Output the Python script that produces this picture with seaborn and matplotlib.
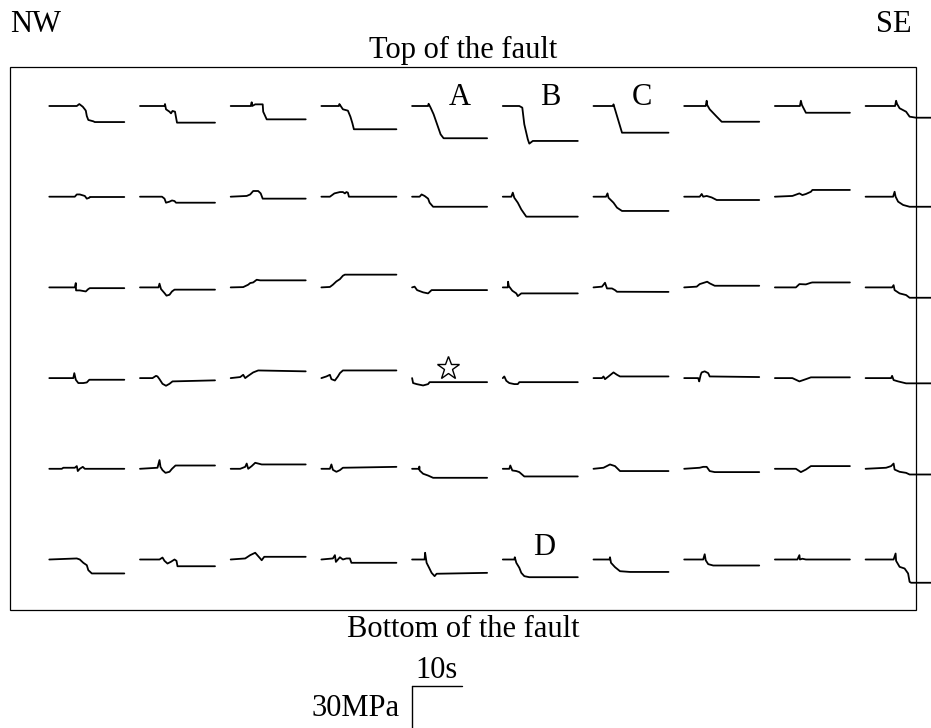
import numpy as np
import pandas as pd
import matplotlib
matplotlib.use("Agg")
import matplotlib.pyplot as plt
from matplotlib.patches import Rectangle
import seaborn as sns

# ---------------- data: stress change (MPa) vs time (s) at each station ----------------
# rows: top of fault (0) -> bottom of fault (5); columns: NW (0) -> SE (9)
T0 = [[0,5.5,6.0,6.7,7.1,7.3,7.5,7.8,8.8,9.1,15],
      [0,4.9,5.0,5.2,5.9,6.2,6.5,7.0,7.2,7.4,15],
      [0,4.0,4.2,4.3,4.9,6.4,6.5,6.9,7.2,15],
      [0,3.5,3.6,4.3,5.3,5.8,6.2,6.5,15],
      [0,3.2,3.3,3.7,4.3,5.0,5.7,6.3,15],
      [0,3.3,3.9,4.3,5.0,5.3,6.0,15],
      [0,3.9,4.0,4.3,5.0,5.7,15],
      [0,4.3,4.5,4.6,5.1,6.5,7.5,15],
      [0,5.0,5.2,5.4,6.2,15],
      [0,5.9,6.1,6.3,6.8,8.1,8.8,10.1,15]]
S0 = [[0,0,1.3,-0.5,-2.2,-3.1,-6.7,-9.3,-10.2,-10.7,-10.7],
      [0,0,1.3,-2.2,-3.8,-4.9,-3.3,-3.8,-7.5,-11.1,-11.1],
      [0,0,2.5,0,1.1,1.1,-3.8,-6.7,-8.9,-8.9],
      [0,0,1.3,-2.2,-3.1,-7.1,-11.5,-15.5,-15.5],
      [0,0,1.5,-1.1,-5.5,-12.2,-18.9,-21.5,-21.5],
      [0,0,-1.1,-12.2,-22.2,-25.1,-23.3,-23.3],
      [0,0,1.1,-2.2,-10,-17.8,-17.8],
      [0,0,3.5,0.7,-2.2,-7.1,-10.5,-10.5],
      [0,0,3.5,0.7,-4.5,-4.5],
      [0,0,3.5,1.3,-1.5,-3.8,-7.1,-7.8,-7.8]]

T1 = [[0,5.1,5.5,6.1,6.7,7.1,7.5,8.0,8.1,15],
      [0,4.4,4.9,5.2,5.9,6.4,6.9,7.2,15],
      [0,3.2,3.9,4.5,5.5,6.0,6.4,15],
      [0,1.7,2.6,3.7,4.3,4.7,5.0,5.3,5.5,15],
      [0,1.5,1.9,2.5,3.2,3.5,4.2,15],
      [0,1.7,2.0,2.3,3.0,3.7,4.7,15],
      [0,2.5,2.8,3.0,4.0,4.7,5.7,15],
      [0,3.1,3.5,3.8,4.5,5.5,6.5,15],
      [0,3.5,4.9,5.5,6.2,7.2,7.5,15],
      [0,5.5,5.8,6.0,6.5,7.5,8.8,15]]
S1 = [[0,0,1.5,1.5,0.9,0.5,-1.3,-0.7,-0.2,-0.2],
      [0,0,-1.3,-4.0,-3.3,-2.5,-2.9,-4.0,-4.0],
      [0,0.5,1.5,3.8,3.8,2.2,-1.3,-1.3],
      [0,0,2.2,3.1,3.1,2.2,3.1,2.7,0,0],
      [0,0,1.5,0.5,-1.3,-4.0,-6.7,-6.7],
      [0,0,2.7,-0.7,-4.0,-8.5,-13.3,-13.3],
      [0,0,2.2,-0.7,-4.0,-7.3,-9.5,-9.5],
      [0,0,1.8,0,0.5,-0.5,-2.2,-2.2],
      [0,0.5,2.2,1.1,1.8,3.3,4.5,4.5],
      [0,0,3.3,0,-3.3,-5.5,-6.7,-6.7]]

T2 = [[0,5.1,5.3,5.35,6.1,7.3,7.8,8.1,15],
      [0,3.7,3.9,4.2,4.9,5.3,5.9,6.4,6.9,15],
      [0,2.5,3.5,3.9,4.5,5.2,5.9,15],
      [0,1.7,2.3,3.0,3.7,4.3,4.7,15],
      [0,0.5,1.0,2.2,3.2,3.9,15],
      [0,1.0,1.05,1.2,1.9,2.7,3.0,3.7,15],
      [0,1.7,2.3,2.7,3.7,4.3,4.7,15],
      [0,2.5,3.1,4.6,5.1,6.1,15],
      [0,4.2,4.9,6.2,7.2,7.5,15],
      [0,5.3,5.6,5.8,6.8,8.1,8.8,15]]
S2 = [[0,0,2.9,-2.0,-2.0,-2.7,-1.1,-0.5,-0.5],
      [0,0,2.5,-1.1,-3.8,-5.5,-4.9,-2.7,-1.5,-1.5],
      [0,0.2,1.8,2.9,3.3,5.1,4.7,4.7],
      [0,0.3,1.8,4.0,5.5,7.8,8.5,8.5],
      [0,0.5,-1.8,-3.3,-4.0,-1.8,-1.8],
      [0,0,3.8,0.9,-2.2,-4.0,-5.8,-4.0,-4.0],
      [0,0.5,3.1,-0.7,-0.7,-1.8,-2.9,-3.0],
      [0,0.5,2.2,3.8,2.7,1.1,1.1],
      [0,0,2.2,2.0,3.1,3.3,3.3],
      [0,0,1.5,-1.8,-4.0,-5.1,-6.9,-6.9]]

T3 = [[0,4.8,5.0,5.3,5.8,6.8,7.5,8.0,15],
      [0,2.5,3.2,3.5,3.9,4.5,5.2,5.9,6.5,15],
      [0,1.9,2.5,2.9,3.5,4.5,5.5,15],
      [0,1.0,1.7,2.0,2.7,3.3,3.7,4.3,15],
      [0,0.2,0.9,2.2,3.2,3.5,15],
      [0,0.3,0.7,1.3,2.3,3.0,3.3,15],
      [0,1.7,2.0,2.3,3.0,4.0,4.7,5.3,15],
      [0,2.8,3.0,3.3,3.5,4.1,4.8,5.1,15],
      [0,3.5,4.9,6.2,7.2,15],
      [0,5.1,5.3,5.6,6.5,8.1,15]]
S3 = [[0,0,3.3,-1.1,-3.3,-3.3,-2.9,-1.1,-1.1],
      [0,0,1.5,1.1,-0.7,-3.8,-5.1,-3.8,-2.2,-1.5],
      [0,0.7,2.2,0,1.5,3.8,5.1,4.5],
      [0,1.1,2.2,-0.7,-1.6,1.1,3.3,5.1,5.1],
      [0,-3.3,-4.0,-4.9,-4.0,-2.7,-2.7],
      [0,1.1,-1.8,-3.3,-4.0,-4.0,-2.7,-2.7],
      [0,0,1.1,-0.7,1.1,3.8,2.2,1.1,1.1],
      [0,0,-2.2,2.2,3.8,4.5,3.3,1.1,0.7],
      [0,0,-2.2,-0.7,0.5,0.5],
      [0,0,1.5,-1.3,-2.2,-3.5,-3.5]]

T4 = [[0,2.5,2.8,5.1,5.5,5.7,6.1,6.7,7.1,15],
      [0,3.5,3.9,4.1,4.5,5.1,5.9,6.4,7.1,15],
      [0,1.9,2.9,3.2,3.5,4.2,4.9,5.5,6.2,15],
      [0,1.7,2.0,2.3,3.0,3.7,4.3,15],
      [0,1.4,1.45,1.5,2.2,3.2,4.2,15],
      [0,1.3,1.5,1.9,2.7,3.3,4.3,15],
      [0,2.0,3.3,4.3,5.3,15],
      [0,3.1,3.8,4.5,5.1,6.1,15],
      [0,4.2,5.2,6.2,7.2,15],
      [0,4.1,5.1,5.6,5.8,6.8,8.1,8.8,15]]
S4 = [[0,0,0.7,0.7,1.8,-1.5,0,1.3,0,0],
      [0,0.7,5.8,1.3,-0.9,-2.7,-2.0,0,2.2,2.2],
      [0,0,1.3,3.5,0,1.8,4.0,3.5,2.9,2.9],
      [0,0,2.9,-0.7,-2.0,-0.9,0.7,1.3],
      [0,0,1.5,-1.1,-3.3,-4.5,-6.0,-6.0],
      [0,0,2.2,-1.1,-1.5,-2.2,-5.1,-5.1],
      [0,0.7,2.9,1.8,-1.5,-1.5],
      [0,0.7,1.3,1.3,-1.5,-2.2,-2.2],
      [0,0,-2.2,-0.5,1.8,1.8],
      [0,0.7,1.8,3.5,-0.5,-2.0,-2.7,-3.8,-3.8]]

T5 = [[0,5.5,6.1,6.8,7.5,7.8,8.5,15],
      [0,3.9,4.5,4.9,5.5,6.2,6.9,7.3,7.5,15],
      [0,2.9,3.9,4.9,5.9,6.2,6.7,15],
      [0,2.3,2.7,2.9,3.7,4.3,5.0,5.7,6.0,15],
      [0,2.5,2.6,2.9,3.4,3.9,4.5,4.9,15],
      [0,2.3,2.4,2.7,3.3,3.7,4.3,5.3,15],
      [0,3.2,3.3,3.5,4.3,5.3,7.3,15],
      [0,3.8,4.1,4.3,4.8,5.8,15],
      [0,4.5,4.9,5.0,5.5,6.2,15],
      [0,5.6,6.0,6.1,6.8,7.8,8.5,8.8,9.1,15]]
S5 = [[0,0.7,0,-2.2,-3.8,-7.1,-9.3,-9.3],
      [0,0,1.3,-0.9,-2.7,-1.5,0,-0.9,-4.5,-4.5],
      [0,0.7,2.9,4.5,0.7,-0.5,1.8,1.8],
      [0,0.7,2.9,-1.6,1.5,0,0.7,0.7,-2.2,-2.2],
      [0,0,4.5,-2.2,-5.5,-8.9,-11.1,-9.5,-8.9],
      [0,0,1.5,-2.2,-5.5,-8.9,-11.1,-11.8,-11.8],
      [0,0,1.5,-2.2,-5.1,-7.8,-8.3,-8.3],
      [0,0,3.5,-0.5,-3.1,-4.0,-4.0],
      [0,0,2.9,0,0.5,0,0],
      [0,0,4.0,-0.9,-4.9,-6.0,-9.3,-14.9,-15.5,-15.5]]

ALL_T = [T0, T1, T2, T3, T4, T5]
ALL_S = [S0, S1, S2, S3, S4, S5]

# station labels: (row, col, text, time, stress)
LABELS = [(0, 4, "A", 9.5, 0.8), (0, 5, "B", 9.5, 0.8), (0, 6, "C", 9.7, 0.8), (5, 5, "D", 8.3, 3.0)]
STAR = (3, 4, 7.2, 7.0)          # hypocentre marker
SCALE_T, SCALE_S = 10, 30        # scale bar: 10 s, 30 MPa

# ---------------- layout (seconds / MPa units) ----------------
PX_PER_S, PX_PER_MPA = 5.0, 1.5
W, H = 931, 728
X_ORIGIN = 49.3 / PX_PER_S
Y_ORIGIN = -106.0 / PX_PER_MPA
COL_STEP = 90.7 / PX_PER_S
ROW_STEP = 90.7 / PX_PER_MPA

recs = []
for r, (Ts, Ss) in enumerate(zip(ALL_T, ALL_S)):
    for c, (t, s) in enumerate(zip(Ts, Ss)):
        for k, (ti, si) in enumerate(zip(t, s)):
            recs.append(dict(station=f"{r}-{c}", row=r, col=c, k=k, t=ti, s=si))
df = pd.DataFrame(recs)
df["x"] = X_ORIGIN + df["col"] * COL_STEP + df["t"]
df["y"] = Y_ORIGIN - df["row"] * ROW_STEP + df["s"]

sns.set_theme(style="white")
plt.rcParams["font.family"] = ["Liberation Serif", "DejaVu Serif"]
plt.rcParams["text.color"] = "black"

fig = plt.figure(figsize=(W / 100, H / 100), dpi=100)
ax = fig.add_axes([0, 0, 1, 1])
ax.set_xlim(0, W / PX_PER_S)
ax.set_ylim(-H / PX_PER_MPA, 0)
ax.axis("off")

sns.lineplot(data=df, x="x", y="y", units="station", estimator=None, sort=False,
             color="black", linewidth=1.3, ax=ax, legend=False)

def px(xp, yp):
    return xp / PX_PER_S, -yp / PX_PER_MPA

# frame
x0, y0 = px(10, 609.5)
x1, y1 = px(916, 67)
ax.add_patch(Rectangle((x0, y0), x1 - x0, y1 - y0, fill=False, lw=0.9, ec="black"))

FS = 22
for r, c, txt, tt, ss in LABELS:
    ax.text(X_ORIGIN + c * COL_STEP + tt, Y_ORIGIN - r * ROW_STEP + ss, txt,
            ha="center", va="baseline", fontsize=FS, color="black")

sr, sc, st, ssv = STAR
ax.plot([X_ORIGIN + sc * COL_STEP + st], [Y_ORIGIN - sr * ROW_STEP + ssv], marker="*",
        ms=17, mfc="white", mec="black", mew=1.0, ls="none")

# text labels
ax.text(*px(10, 32), "NW", ha="left", va="baseline", fontsize=FS, color="black")
ax.text(*px(912, 32), "SE", ha="right", va="baseline", fontsize=FS, color="black")
ax.text(*px(463, 58), "Top of the fault", ha="center", va="baseline", fontsize=FS, color="black")
ax.text(*px(463, 637), "Bottom of the fault", ha="center", va="baseline", fontsize=FS, color="black")

# scale bar
bx, by = px(412, 686)
ax.plot([bx, bx + SCALE_T], [by, by], color="black", lw=1.0)
ax.plot([bx, bx], [by, by - SCALE_S], color="black", lw=1.0)
ax.text(bx + SCALE_T / 2, px(0, 678)[1], f"{SCALE_T}s", ha="center", va="baseline", fontsize=FS, color="black")
ax.text(px(400, 0)[0], px(0, 716)[1], f"{SCALE_S}MPa", ha="right", va="baseline", fontsize=FS, color="black")

fig.savefig("out.png", dpi=100)
